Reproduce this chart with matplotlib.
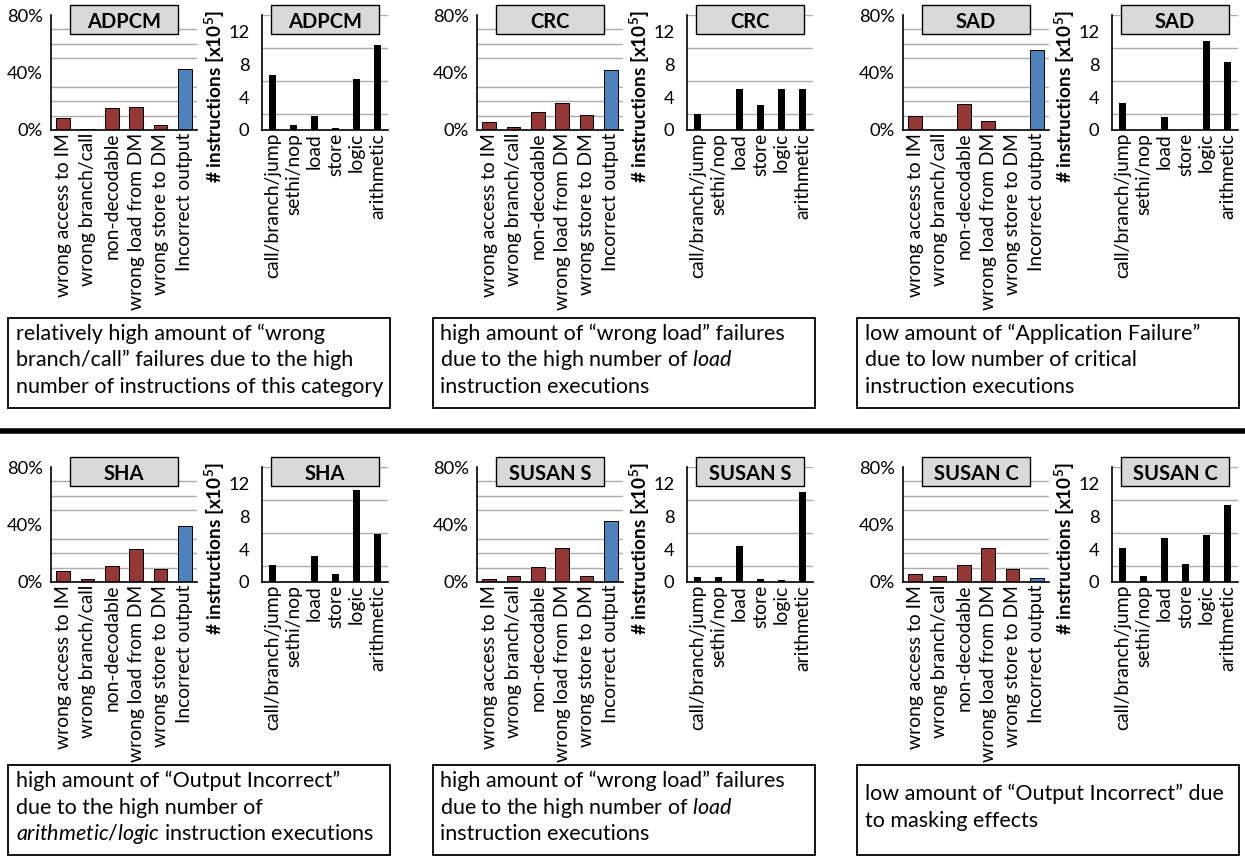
import matplotlib
matplotlib.use("Agg")
import matplotlib.pyplot as plt
from matplotlib.patches import Rectangle
from matplotlib.lines import Line2D

plt.rcParams["font.family"] = ["Lato", "DejaVu Sans"]
plt.rcParams["mathtext.fontset"] = "custom"
plt.rcParams["mathtext.rm"] = "Lato"
plt.rcParams["mathtext.it"] = "Lato:italic"
plt.rcParams["mathtext.bf"] = "Lato:bold"

# ---- data ----
benchmarks = ["ADPCM", "CRC", "SAD", "SHA", "SUSAN S", "SUSAN C"]
fail_labels = ["wrong access to IM", "wrong branch/call", "non-decodable",
               "wrong load from DM", "wrong store to DM", "Incorrect output"]
instr_labels = ["call/branch/jump", "sethi/nop", "load", "store", "logic", "arithmetic"]

# failure distribution [%]
fail_adpcm = [8.3, 0.4, 15.3, 16.0, 3.3, 42.1]
fail_crc = [5.4, 1.9, 12.5, 18.8, 10.4, 41.6]
fail_sad = [9.4, 0.0, 18.1, 6.6, 0.0, 56.0]
fail_sha = [7.4, 2.3, 11.1, 22.9, 8.8, 38.8]
fail_susan_s = [2.3, 4.4, 10.4, 24.0, 4.2, 42.3]
fail_susan_c = [5.3, 3.9, 12.0, 23.6, 9.0, 3.0]

# executed instructions [x10^5]
instr_adpcm = [6.7, 0.6, 1.7, 0.3, 6.2, 10.35]
instr_crc = [2.0, 0.0, 4.95, 3.0, 4.95, 4.95]
instr_sad = [3.3, 0.0, 1.57, 0.0, 10.85, 8.3]
instr_sha = [2.1, 0.0, 3.2, 1.0, 11.26, 5.84]
instr_susan_s = [0.65, 0.65, 4.44, 0.4, 0.25, 11.0]
instr_susan_c = [4.2, 0.7, 5.34, 2.2, 5.67, 9.4]

failures = [fail_adpcm, fail_crc, fail_sad, fail_sha, fail_susan_s, fail_susan_c]
instructions = [instr_adpcm, instr_crc, instr_sad, instr_sha, instr_susan_s, instr_susan_c]

notes = [
    ["relatively high amount of \u201cwrong", "branch/call\u201d failures due to the high",
     "number of instructions of this category"],
    ["high amount of \u201cwrong load\u201d failures", "due to the high number of $\\mathit{load}$",
     "instruction executions"],
    ["low amount of \u201cApplication Failure\u201d", "due to low number of critical",
     "instruction executions"],
    ["high amount of \u201cOutput Incorrect\u201d", "due to the high number of",
     "$\\mathit{arithmetic/logic}$ instruction executions"],
    ["high amount of \u201cwrong load\u201d failures", "due to the high number of $\\mathit{load}$",
     "instruction executions"],
    ["low amount of \u201cOutput Incorrect\u201d due", "to masking effects"],
]

RED = "#953735"
BLUE = "#4f81bd"
GRID = "#ababab"
YLABEL = "# instructions [x10$^{\\mathbf{5}}$]"

W, H = 1245, 858
fig = plt.figure(figsize=(W / 100, H / 100), dpi=100)
renderer = fig.canvas.get_renderer()


def fit_size(s, target_px, weight="normal", base=20.0):
    # font size that makes string s about target_px wide
    t = fig.text(0, 0, s, fontsize=base, fontweight=weight)
    w = t.get_window_extent(renderer).width
    t.remove()
    return base * target_px / w


CAT_FS = fit_size("wrong load from DM", 177)
TICK_FS = fit_size("80%", 36)
TITLE_FS = fit_size("ADPCM", 74, "bold")
YLAB_FS = fit_size(YLABEL, 172, "bold")
NOTE_FS = fit_size("number of instructions of this category", 368)


def px_axes(x, y, w, h):
    return fig.add_axes([x / W, 1 - (y + h) / H, w / W, h / H])


def style(ax, ymax, step, labels, title, ypad):
    ax.set_xlim(-0.5, len(labels) - 0.5)
    ax.set_ylim(0, ymax)
    ax.set_yticks(range(0, ymax + 1, step), minor=True)
    ax.grid(True, which="minor", axis="y", color=GRID, lw=1.0)
    ax.set_axisbelow(True)
    ax.set_xticks(range(len(labels)))
    ax.set_xticklabels(labels, rotation=90, fontsize=CAT_FS)
    ax.tick_params(axis="both", which="both", length=0)
    ax.tick_params(axis="y", pad=ypad, labelsize=TICK_FS)
    ax.tick_params(axis="x", pad=2)
    for s in ["top", "right"]:
        ax.spines[s].set_visible(False)
    for s in ["left", "bottom"]:
        ax.spines[s].set_color("black")
        ax.spines[s].set_linewidth(1.2)
    # title box
    bw = 108 / (ax.get_position().width * W)
    ax.add_patch(Rectangle((0.5 - bw / 2, 0.835), bw, 0.252, transform=ax.transAxes,
                           facecolor="#d9d9d9", edgecolor="black", lw=1.0,
                           clip_on=False, zorder=5))
    ax.text(0.5, 0.935, title, transform=ax.transAxes, ha="center", va="center",
            fontsize=TITLE_FS, fontweight="bold", zorder=6)


rows_y = [15, 467]
box_y = [318, 765]
for i, name in enumerate(benchmarks):
    r, c = divmod(i, 3)
    y0 = rows_y[r]
    # failure distribution
    ax1 = px_axes(51 + 426 * c, y0, 146, 115)
    cols = [RED] * 5 + [BLUE]
    ax1.bar(range(6), failures[i], width=0.55, color=cols, edgecolor="black", lw=0.7)
    style(ax1, 80, 10, fail_labels, name, 6)
    ax1.set_yticks([0, 40, 80])
    ax1.set_yticklabels(["0%", "40%", "80%"])

    # instruction counts
    ax2 = px_axes(262 + 425 * c, y0, 126, 115)
    ax2.bar(range(6), instructions[i], width=0.38, color="black")
    style(ax2, 14, 2, instr_labels, name, 9)
    ax2.set_yticks([0, 4, 8, 12])
    ax2.set_ylabel(YLABEL, fontsize=YLAB_FS, fontweight="bold")
    ax2.yaxis.set_label_coords(-0.275, 0.29)

    # note box
    bx = 8 + 424.5 * c
    fig.patches.append(Rectangle((bx / W, 1 - (box_y[r] + 90) / H), 382 / W, 90 / H,
                                 transform=fig.transFigure, facecolor="white",
                                 edgecolor="black", lw=1.3))
    lines = notes[i]
    mid = box_y[r] + 48.5
    for k, line in enumerate(lines):
        base = mid + (k - (len(lines) - 1) / 2) * 26.8
        fig.text((bx + 8) / W, 1 - base / H, line, ha="left", va="baseline",
                 fontsize=NOTE_FS)

# separator between the two rows
fig.add_artist(Line2D([0, 1], [1 - 430.5 / H, 1 - 430.5 / H], color="black", lw=4,
                      transform=fig.transFigure))

fig.savefig("out.png", dpi=100)
